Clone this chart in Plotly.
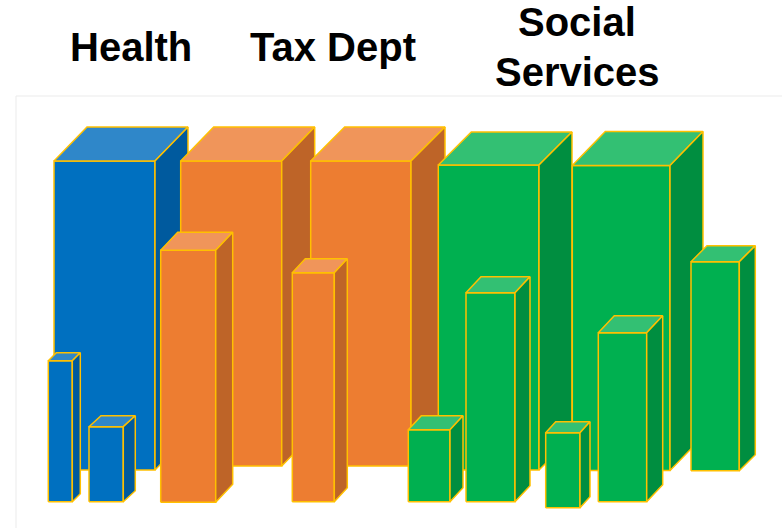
import plotly.graph_objects as go

# ---- data -------------------------------------------------------------
categories = ["Health", "Tax Dept", "Social Services"]

# tall boxes in the back row
back_group = [0, 1, 1, 2, 2]
back_values = [309, 305, 305, 305, 305]

# smaller boxes in the front row
front_group = [0, 0, 1, 1, 2, 2, 2, 2, 2]
front_values = [141, 75, 252, 229, 72, 209, 75, 169, 209]

# ---- layout of the boxes (pixel-like axis units, y grows upward) -------
W, H = 782, 528
back_left = [54, 180.7, 310.7, 438.3, 572.3]
back_width = [101, 101, 100.3, 100.7, 97.7]
back_base = [58, 62, 62, 58, 57.5]
back_depth = [(33, 34), (33, 34), (34, 34), (33, 33), (33, 34)]

front_left = [48.3, 89, 160.7, 292.3, 408.3, 466, 545.7, 598.3, 691]
front_width = [24, 34.3, 55, 42, 41.7, 49, 34.3, 48.4, 48.3]
front_base = [26.3, 26.3, 25.7, 26.3, 26.3, 26.3, 20.3, 26.3, 57.3]
front_depth = [(8, 8), (12, 11), (17, 18), (13, 14), (13, 14), (15, 16),
               (10, 11), (16, 17), (16, 16)]

# face colours per group: front, top, side
palette = [
    ("#0070C0", "#2F87C9", "#005A9E"),
    ("#ED7D31", "#F0955A", "#BE6428"),
    ("#00B050", "#33C073", "#008E40"),
]
edge = "#FFC000"

fig = go.Figure()


def add_box(left, width, base, value, depth, colors):
    dx, dy = depth
    r = left + width
    top = base + value
    front_c, top_c, side_c = colors
    faces = [
        ([left, r, r, left, left], [base, base, top, top, base], front_c),
        ([left, left + dx, r + dx, r, left], [top, top + dy, top + dy, top, top], top_c),
        ([r, r + dx, r + dx, r, r], [base, base + dy, top + dy, top, base], side_c),
    ]
    for xs, ys, c in faces:
        fig.add_trace(go.Scatter(
            x=xs, y=ys, mode="lines", fill="toself", fillcolor=c,
            line=dict(color=edge, width=1.5), hoverinfo="skip", showlegend=False,
        ))


for i, v in enumerate(back_values):
    add_box(back_left[i], back_width[i], back_base[i], v, back_depth[i],
            palette[back_group[i]])

for i, v in enumerate(front_values):
    add_box(front_left[i], front_width[i], front_base[i], v, front_depth[i],
            palette[front_group[i]])

# category headings
title_font = dict(family="Liberation Sans, Arial, sans-serif", size=40, color="black")
heading_pos = [(131, [(H - 47, categories[0])]),
               (333, [(H - 47, categories[1])]),
               (577, [(H - 22, "Social"), (H - 72, "Services")])]
for x, lines in heading_pos:
    for y, txt in lines:
        fig.add_annotation(x=x, y=y, text="<b>%s</b>" % txt, showarrow=False,
                           xanchor="center", yanchor="middle", font=title_font)

# light frame around the chart area
fig.add_shape(type="rect", x0=16, x1=W + 10, y0=-10, y1=H - 96,
              line=dict(color="#EBEBEB", width=1), layer="below")

fig.update_layout(
    width=W, height=H,
    margin=dict(l=0, r=0, t=0, b=0),
    paper_bgcolor="white", plot_bgcolor="white",
    xaxis=dict(range=[0, W], visible=False, fixedrange=True),
    yaxis=dict(range=[0, H], visible=False, fixedrange=True),
)

fig.write_html("out.html")
